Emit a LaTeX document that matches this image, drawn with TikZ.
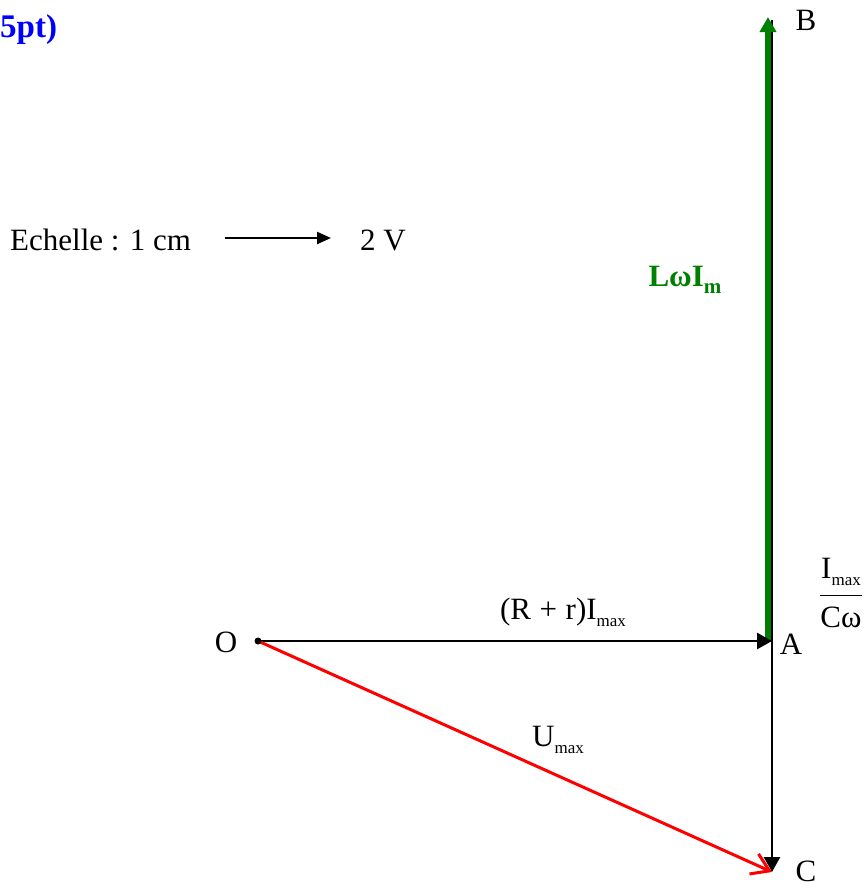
\documentclass[tikz,border=0pt]{standalone}
\usepackage{fontspec}
\setmainfont{Liberation Serif}
\usetikzlibrary{arrows.meta}
\definecolor{vecgreen}{RGB}{0,128,0}
\tikzset{
  lbl/.style={font=\fontsize{31}{36}\selectfont, inner sep=0pt},
  vec/.style={line width=2.8pt, -{Triangle[length=15pt,width=16pt]}},
}
\newcommand{\submax}{\raisebox{-0.5ex}{\fontsize{17}{19}\selectfont max}}
\begin{document}
\begin{tikzpicture}[x=1pt,y=-1pt]
\useasboundingbox (0,0) rectangle (867,889);
\coordinate (O) at (258,641);
\coordinate (A) at (772,641);
\coordinate (B) at (772,20);
\coordinate (C) at (772,872);
\coordinate (Ag) at (768,641);
\coordinate (Bg) at (768,17);
\coordinate (s1) at (225,238);
\coordinate (s2) at (331,238);
\node[lbl, anchor=west, text=blue, font=\fontsize{33}{36}\selectfont\bfseries] (mark) at (0,30) {5pt)};
\node[lbl, anchor=west] (scale) at (10,240) {Echelle : 1 cm};
\node[lbl] (volt) at (383,240) {2 V};
\node[lbl] (nO) at (226,642) {O};
\node[lbl] (nA) at (791,644) {A};
\node[lbl] (nB) at (806,20) {B};
\node[lbl] (nC) at (806,871) {C};
\node[lbl] (lRr) at (563,612) {(R\;+\;r)I\submax};
\node[lbl] (lU) at (558,740) {U\submax};
\node[lbl, text=vecgreen, font=\fontsize{31}{36}\selectfont\bfseries] (lL) at (685,280) {LωI\raisebox{-0.45ex}{\fontsize{21}{23}\selectfont m}};
\node[lbl] (lC) at (841,596) {\begin{tabular}{@{}c@{}}I\submax\\[6pt]\hline\rule{0pt}{32pt}Cω\end{tabular}};
% vectors
\draw[line width=2.8pt] (B) -- (A);
\draw[vec, line width=5.5pt, vecgreen, -{Triangle[length=15pt,width=16pt]}] (Ag) -- (Bg);
\draw[vec] (A) -- (C);
\draw[vec] (O) -- (A);
\draw[vec, red, line width=3pt, -{Straight Barb[length=17pt,width=22pt,line width=3pt]}] (O) -- (C);
\fill (O) circle (3.5);
\draw[vec, line width=2.2pt, -{Triangle[length=14pt,width=12pt]}] (s1) -- (s2);
\end{tikzpicture}
\end{document}
